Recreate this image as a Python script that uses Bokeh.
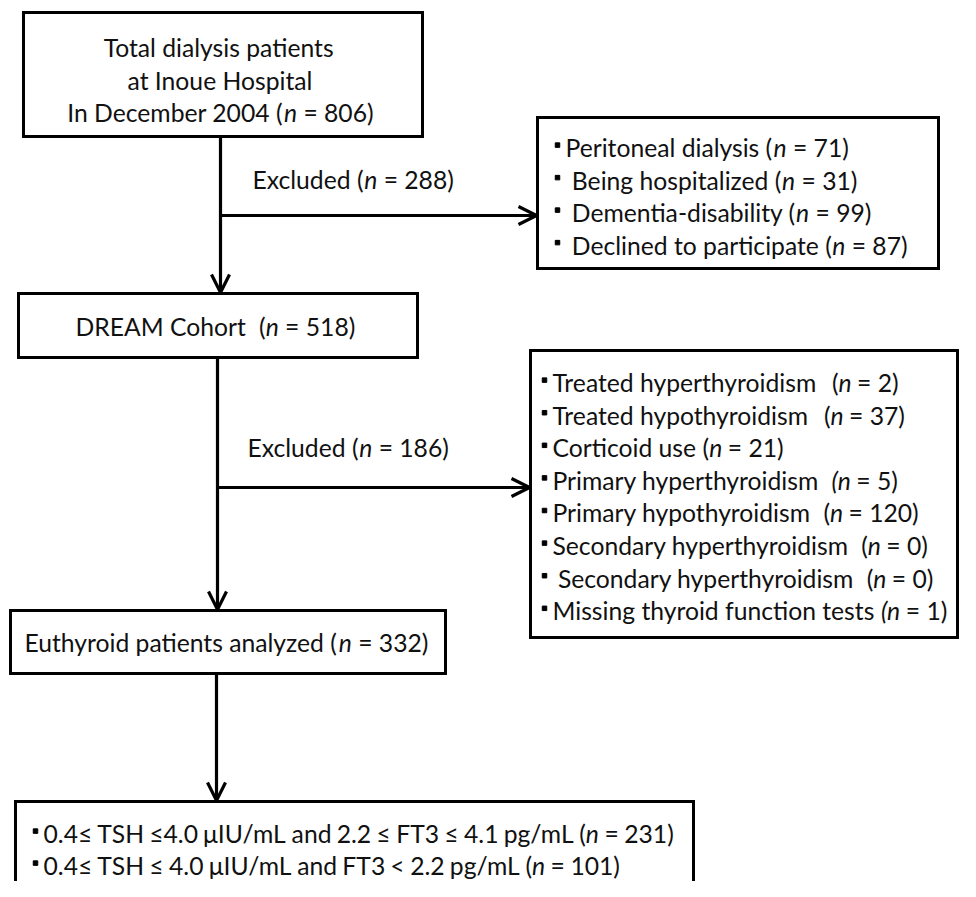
import os
import re
import struct
from bokeh.plotting import figure
from bokeh.models import Range1d, Arrow, OpenHead, ColumnDataSource
from bokeh.core.properties import value
from bokeh.embed import file_html
from bokeh.resources import INLINE

# ---------------- data (text of the flow chart) ----------------
top_lines = ["Total dialysis patients", "at Inoue Hospital", "In December 2004 (*n* = {})"]
total_n = 806
excluded1_template = "Excluded (*n* = {})"
excluded1_n = 288
excl1_templates = ["Peritoneal dialysis (*n* = {})", " Being hospitalized (*n* = {})",
                   " Dementia-disability (*n* = {})", " Declined to participate (*n* = {})"]
excl1_counts = [71, 31, 99, 87]
cohort_template = "DREAM Cohort  (*n* = {})"
cohort_n = 518
excluded2_template = "Excluded (*n* = {})"
excluded2_n = 186
excl2_templates = ["Treated hyperthyroidism  (*n* = {})", "Treated hypothyroidism  (*n* = {})",
                   "Corticoid use (*n* = {})", "Primary hyperthyroidism  *(n* = {})",
                   "Primary hypothyroidism  (*n* = {})", "Secondary hyperthyroidism  (*n* = {})",
                   " Secondary hyperthyroidism  (*n* = {})", "Missing thyroid function tests *(n* = {})"]
excl2_counts = [2, 37, 21, 5, 120, 0, 0, 1]
analyzed_template = "Euthyroid patients analyzed (*n* = {})"
analyzed_n = 332
group_templates = ["0.4\u2264 TSH \u22644.0 \u03bcIU/mL and 2.2 \u2264 FT3 \u2264 4.1 pg/mL (*n* = {})",
                   "0.4\u2264 TSH \u2264 4.0 \u03bcIU/mL and FT3 < 2.2 pg/mL (*n* = {})"]
group_counts = [231, 101]

FONT = "Lato"
TEXT_COLOR = "#111111"


# ---------------- text measuring (font metrics) ----------------
def _load_ttf(path):
    data = open(path, "rb").read()
    off = 0
    if data[:4] == b"ttcf":
        off = struct.unpack(">I", data[12:16])[0]
    num = struct.unpack(">H", data[off + 4:off + 6])[0]
    tables = {}
    for i in range(num):
        rec = off + 12 + 16 * i
        tag = data[rec:rec + 4].decode("latin1")
        toff = struct.unpack(">I", data[rec + 8:rec + 12])[0]
        tables[tag] = toff
    head = tables["head"]
    upem = struct.unpack(">H", data[head + 18:head + 20])[0]
    hhea = tables["hhea"]
    nhm = struct.unpack(">H", data[hhea + 34:hhea + 36])[0]
    hmtx = tables["hmtx"]
    adv = [struct.unpack(">H", data[hmtx + 4 * i:hmtx + 4 * i + 2])[0] for i in range(nhm)]
    cmap = tables["cmap"]
    n = struct.unpack(">H", data[cmap + 2:cmap + 4])[0]
    sub = None
    for i in range(n):
        pid, eid, so = struct.unpack(">HHI", data[cmap + 4 + 8 * i:cmap + 12 + 8 * i])
        fmt = struct.unpack(">H", data[cmap + so:cmap + so + 2])[0]
        if fmt == 4 and ((pid == 3 and eid == 1) or pid == 0):
            sub = cmap + so
            break
    segx2 = struct.unpack(">H", data[sub + 6:sub + 8])[0]
    seg = segx2 // 2
    ends = struct.unpack(">%dH" % seg, data[sub + 14:sub + 14 + segx2])
    s_off = sub + 16 + segx2
    starts = struct.unpack(">%dH" % seg, data[s_off:s_off + segx2])
    d_off = s_off + segx2
    deltas = struct.unpack(">%dh" % seg, data[d_off:d_off + segx2])
    r_off = d_off + segx2
    ros = struct.unpack(">%dH" % seg, data[r_off:r_off + segx2])

    def gid(c):
        for i in range(seg):
            if ends[i] >= c:
                if starts[i] > c:
                    return 0
                if ros[i] == 0:
                    return (c + deltas[i]) & 0xFFFF
                addr = r_off + 2 * i + ros[i] + 2 * (c - starts[i])
                g = struct.unpack(">H", data[addr:addr + 2])[0]
                return (g + deltas[i]) & 0xFFFF if g else 0
        return 0

    def width(ch):
        g = gid(ord(ch))
        if g == 0:
            return None
        return (adv[g] if g < nhm else adv[-1]) / upem

    return width


def _find_font(stems):
    roots = ["/usr/share/fonts", "/usr/local/share/fonts",
             os.path.expanduser("~/.fonts"), os.path.expanduser("~/.local/share/fonts")]
    for root in roots:
        for d, _, files in os.walk(root):
            for f in files:
                stem, ext = os.path.splitext(f.lower())
                if ext in (".ttf", ".otf", ".ttc") and stem in stems:
                    return os.path.join(d, f)
    return None


def _metric(stems):
    try:
        path = _find_font(stems)
        if path:
            return _load_ttf(path)
    except Exception:
        pass
    return None


_reg = _metric(("lato-regular", "lato-reg"))
_ita = _metric(("lato-italic", "lato-ita"))


def em_width(text, italic=False):
    fn = _ita if italic else _reg
    if fn is None:
        fn = _reg
    total = 0.0
    for ch in text:
        w = fn(ch) if fn else None
        if w is None:
            w = 0.2 if ch in " \u00a0" else 0.55
        total += w
    return total


def pieces(s):
    parts = s.split("*")
    return [(t, i % 2 == 1) for i, t in enumerate(parts) if t]


def line_em(s):
    return sum(em_width(t, it) for t, it in pieces(s))


# calibrate font size so that line widths match the original
calib = [(top_lines[2].format(total_n), 305), (excl1_templates[0].format(excl1_counts[0]), 288),
         (excl2_templates[7].format(excl2_counts[7]), 401), (analyzed_template.format(analyzed_n), 408),
         (group_templates[0].format(group_counts[0]), 635)]
FS = sum(px for _, px in calib) / sum(line_em(s) for s, _ in calib)
FS = max(18.0, min(30.0, FS))
BASE_FIX = 0.32 * FS   # Bokeh draws "alphabetic" text a little low

norm = {"x": [], "y": [], "t": []}
ital = {"x": [], "y": [], "t": []}


def put_line(s, x, y, align="left", words=False, gap_scale=1.0, body_scale=1.0):
    if align == "center":
        s = s.strip(" ")
        x = x - line_em(s) * FS / 2.0
    cx = x
    ty = y - BASE_FIX
    for t, it in pieces(s):
        splitter = r"( +)" if words else r"( {2,})"
        chunks = re.split(splitter, t)
        for ch in chunks:
            if not ch:
                continue
            if ch.strip(" ") == "":
                cx += em_width(ch, it) * FS * gap_scale
                continue
            lead = len(ch) - len(ch.lstrip(" "))
            body = ch.strip(" ")
            tgt = ital if it else norm
            tgt["x"].append(cx + em_width(ch[:lead], it) * FS * gap_scale)
            tgt["y"].append(ty)
            tgt["t"].append(body)
            cx += em_width(ch[:lead], it) * FS * gap_scale + em_width(body, it) * FS * body_scale
            cx += em_width(ch[lead + len(body):], it) * FS * gap_scale


# ---------------- figure ----------------
p = figure(width=960, height=881, x_range=Range1d(0, 960), y_range=Range1d(881, 0),
           output_backend="svg", toolbar_location=None, min_border=0)
p.axis.visible = False
p.grid.visible = False
p.outline_line_color = None
p.background_fill_color = "white"

# boxes: left, top, right, bottom
boxes = [(23, 12, 422, 136), (537, 117, 938, 268), (18, 293, 417, 357),
         (530, 350, 957, 637), (10, 610, 445, 673), (15, 801, 693, 905)]
p.quad(left=[b[0] for b in boxes], top=[b[1] for b in boxes],
       right=[b[2] for b in boxes], bottom=[b[3] for b in boxes],
       fill_color="white", line_color="black", line_width=3, line_join="miter")

LW = 3.2
head = dict(size=18, line_width=LW, line_color="black")
# vertical shafts with arrow heads
for xs, ys, ye in [(220, 136, 292), (217, 357, 609), (216, 673, 800)]:
    p.add_layout(Arrow(end=OpenHead(**head), x_start=xs, y_start=ys, x_end=xs, y_end=ye,
                       line_width=LW, line_color="black"))
# horizontal branches
for xs, yy, xe in [(220, 215, 536), (217, 487, 529)]:
    p.add_layout(Arrow(end=OpenHead(**head), x_start=xs, y_start=yy, x_end=xe, y_end=yy,
                       line_width=LW, line_color="black"))

# texts
for i, s in enumerate(top_lines):
    put_line(s.format(total_n), 220, 55 + 32.5 * i, "center")
put_line(excluded1_template.format(excluded1_n), 252, 187)
put_line(cohort_template.format(cohort_n), 215, 334, "center")
put_line(excluded2_template.format(excluded2_n), 247, 455)
put_line(analyzed_template.format(analyzed_n), 226, 650, "center")

bx, by = [], []
for i, (tpl, c) in enumerate(zip(excl1_templates, excl1_counts)):
    yb = 155 + 32.5 * i
    put_line(tpl.format(c), 565, yb)
    bx.append(557)
    by.append(yb - 0.42 * FS)
for i, (tpl, c) in enumerate(zip(excl2_templates, excl2_counts)):
    yb = 390 + 32.6 * i
    put_line(tpl.format(c), 552, yb, gap_scale=0.85)
    bx.append(544)
    by.append(yb - 0.42 * FS)
for i, (tpl, c) in enumerate(zip(group_templates, group_counts)):
    yb = 841 + 32 * i
    put_line(tpl.format(c), 43, yb, words=True, gap_scale=0.9, body_scale=0.985)
    bx.append(35)
    by.append(yb - 0.42 * FS)

p.scatter(x=bx, y=by, marker="square", size=4.5, fill_color="black", line_color="black")

fs_str = "%.1fpx" % FS
p.text(x="x", y="y", text="t", source=ColumnDataSource(norm), text_font=value(FONT),
       text_font_size=fs_str, text_align="left", text_baseline="alphabetic",
       text_color=TEXT_COLOR)
p.text(x="x", y="y", text="t", source=ColumnDataSource(ital), text_font=value(FONT),
       text_font_size=fs_str, text_font_style="italic", text_align="left",
       text_baseline="alphabetic", text_color=TEXT_COLOR)

open("out.html", "w").write(file_html(p, INLINE))
